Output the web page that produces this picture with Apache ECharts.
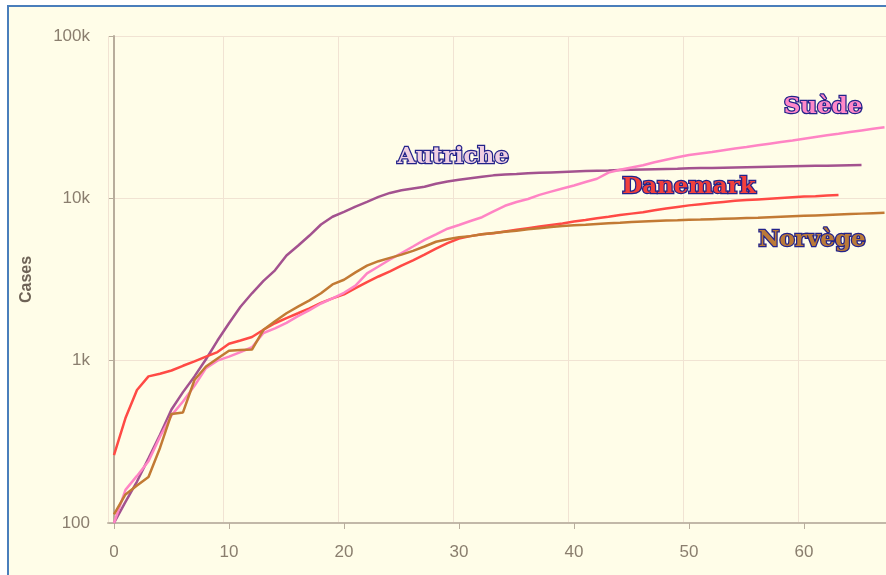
<!DOCTYPE html>
<html>
<head>
<meta charset="utf-8">
<script src="https://cdn.jsdelivr.net/npm/echarts@6/dist/echarts.min.js"></script>
<style>
  body { margin: 0; background: #ffffff; }
  #frame { position: absolute; left: 7px; top: 5px; width: 879px; height: 570px;
           border-left: 2px solid #4a7ebb; border-top: 2px solid #4a7ebb; background: #fffde8; }
  #chart { position: absolute; left: 0; top: 0; width: 886px; height: 575px; }
</style>
</head>
<body>
<div id="frame"></div>
<div id="chart"></div>
<script>
// jours depuis le 100e cas
var xTicks = [0, 10, 20, 30, 40, 50, 60]
var yTickLabels = { 100: '100', 1000: '1k', 10000: '10k', 100000: '100k' }

var autriche = [100, 135, 180, 250, 350, 500, 640, 800, 1020, 1330, 1700, 2150, 2600, 3100, 3600,
  4450, 5100, 5900, 6900, 7700, 8250, 8900, 9500, 10200, 10800, 11200, 11500, 11800, 12300, 12700,
  13000, 13300, 13600, 13850, 14000, 14100, 14250, 14350, 14450, 14550, 14650, 14750, 14800, 14850,
  14950, 15000, 15050, 15100, 15150, 15200, 15300, 15350, 15400, 15450, 15500, 15550, 15600, 15650,
  15700, 15750, 15800, 15850, 15900, 15950, 16000, 16050]
var danemark = [262, 443, 660, 800, 830, 870, 930, 990, 1060, 1130, 1270, 1330, 1400, 1550, 1700,
  1830, 1960, 2100, 2270, 2420, 2560, 2800, 3050, 3300, 3550, 3850, 4150, 4500, 4900, 5300, 5650,
  5850, 6000, 6100, 6250, 6400, 6550, 6700, 6850, 7000, 7200, 7350, 7550, 7700, 7900, 8050, 8200,
  8450, 8650, 8850, 9050, 9200, 9350, 9500, 9650, 9750, 9850, 9950, 10050, 10150, 10250, 10300,
  10400, 10500]
var suede = [100, 160, 195, 240, 340, 460, 560, 700, 900, 1000, 1060, 1130, 1210, 1480, 1580, 1710,
  1880, 2050, 2250, 2420, 2620, 2900, 3450, 3800, 4200, 4600, 5050, 5550, 6000, 6500, 6850, 7250,
  7650, 8300, 9000, 9500, 9900, 10500, 11000, 11500, 12000, 12600, 13200, 14400, 15000, 15500,
  16000, 16700, 17300, 17900, 18500, 18900, 19300, 19800, 20300, 20700, 21200, 21700, 22200, 22700,
  23300, 23900, 24500, 25000, 25600, 26200, 26800, 27400]
var norvege = [113, 150, 170, 192, 290, 470, 480, 760, 920, 1030, 1150, 1165, 1170, 1550, 1750,
  1960, 2150, 2350, 2600, 2950, 3150, 3500, 3850, 4100, 4300, 4500, 4750, 5050, 5400, 5600, 5750,
  5850, 6000, 6120, 6220, 6320, 6450, 6550, 6650, 6750, 6820, 6880, 6950, 7020, 7080, 7150, 7200,
  7250, 7300, 7330, 7370, 7400, 7440, 7480, 7520, 7560, 7600, 7650, 7700, 7750, 7800, 7850, 7900,
  7950, 8000, 8050, 8100, 8150]

// étiquettes des pays : [jour, cas]
var labelAnchors = {
  'Autriche': [29.5, 17900],
  'Danemark': [50.0, 11750],
  'Suède': [61.65, 36500],
  'Norvège': [60.7, 5540]
}

var colors = {
  'Autriche': { line: '#a3528f', fill: '#efcfe2' },
  'Danemark': { line: '#ff4a45', fill: '#f2403c' },
  'Suède': { line: '#ff84c4', fill: '#ff88c8' },
  'Norvège': { line: '#c27a34', fill: '#bb7a38' }
}

function makeSeries(name, values) {
  return {
    name: name,
    type: 'line',
    xAxisIndex: 0,
    showSymbol: false,
    symbol: 'none',
    animation: false,
    emphasis: { disabled: true },
    lineStyle: { color: colors[name].line, width: 2.5 },
    itemStyle: { color: colors[name].line },
    data: values.map(function (v, i) { return [i, v] }),
    markPoint: {
      symbol: 'circle',
      symbolSize: 1,
      itemStyle: { color: 'rgba(0,0,0,0)' },
      label: {
        show: true,
        position: 'inside',
        formatter: name,
        fontFamily: 'DejaVu Serif',
        fontWeight: 'bold',
        fontSize: 23,
        color: colors[name].fill,
        textBorderColor: '#23238a',
        textBorderWidth: 2.5,
        textShadowColor: '#23238a',
        textShadowOffsetX: 1.5,
        textShadowOffsetY: 1.5,
        textShadowBlur: 0
      },
      data: [{ coord: labelAnchors[name] }]
    }
  }
}

var chart = echarts.init(document.getElementById('chart'), null, { renderer: 'canvas' })
chart.setOption({
  backgroundColor: 'transparent',
  animation: false,
  grid: { left: 108, right: 0, top: 36, bottom: 52, containLabel: false },
  xAxis: [
    {
      type: 'value',
      min: -0.52,
      max: 67.13,
      axisLine: { lineStyle: { color: '#c2b8a8', width: 2 } },
      axisTick: { show: true, customValues: xTicks, length: 6, lineStyle: { color: '#b8ad9c' } },
      axisLabel: { customValues: xTicks, color: '#8a7e6e', fontSize: 17, fontFamily: 'Liberation Sans', margin: 21 },
      splitLine: { show: false }
    },
    {
      type: 'value',
      min: 0,
      max: 67.65,
      interval: 10,
      position: 'bottom',
      axisLine: { show: false },
      axisTick: { show: false },
      axisLabel: { show: false },
      splitLine: { show: true, lineStyle: { color: '#f1e3d3', width: 1 } }
    }
  ],
  yAxis: {
    type: 'log',
    logBase: 10,
    min: 100,
    max: 100000,
    name: 'Cases',
    nameLocation: 'middle',
    nameGap: 73,
    nameTextStyle: { color: '#6e6356', fontSize: 16, fontWeight: 'bold', fontFamily: 'Liberation Sans' },
    axisLine: { show: true, lineStyle: { color: '#b8ad9c', width: 2 } },
    axisTick: { show: true, length: 5, lineStyle: { color: '#b8ad9c' } },
    axisLabel: {
      color: '#8a7e6e', fontSize: 17, fontFamily: 'Liberation Sans', margin: 18,
      formatter: function (v) { return yTickLabels[Math.round(v)] || '' }
    },
    splitLine: { show: true, lineStyle: { color: '#f1e3d3', width: 1 } },
    minorTick: { show: false }
  },
  series: [
    makeSeries('Autriche', autriche),
    makeSeries('Danemark', danemark),
    makeSeries('Suède', suede),
    makeSeries('Norvège', norvege)
  ]
})
</script>
</body>
</html>
